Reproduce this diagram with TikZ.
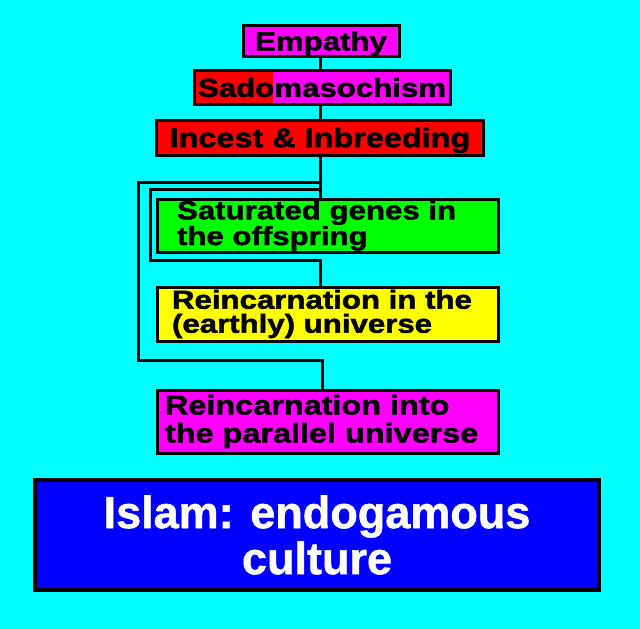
\documentclass[tikz,border=0pt]{standalone}
\usepackage{fontspec}
\newfontfamily\boxfont{Liberation Sans}[FakeStretch=1.2, BoldFeatures={FakeBold=1.8}]
\newfontfamily\islamfont{Liberation Sans}[BoldFeatures={FakeBold=1.2}]
\definecolor{skycyan}{RGB}{0,255,255}
\definecolor{hotmagenta}{RGB}{255,0,255}
\definecolor{hotred}{RGB}{255,0,0}
\definecolor{hotgreen}{RGB}{0,255,0}
\definecolor{hotyellow}{RGB}{255,255,0}
\definecolor{deepblue}{RGB}{0,0,255}
\tikzset{
	box/.style={draw=black, line width=2.25pt, inner sep=0pt, outer sep=0pt},
	link/.style={draw=black, line width=2.25pt},
	topfont/.style={font=\boxfont\bfseries\fontsize{19.5pt}{19.5pt}\selectfont},
	wide/.style={minimum width=255.75pt, text width=#1, align=left}
}

\begin{document}
\begin{tikzpicture}[x=0.75pt, y=-0.75pt]
		\fill[skycyan] (0,0) rectangle (640,629);
		\useasboundingbox (0,0) rectangle (640,629);
		% the three top boxes
		\node [box, topfont, fill=hotmagenta, minimum width=117pt, minimum height=23.25pt, text height=14pt, text depth=0pt] (empathy) at (321, 41) {Empathy};
		\node [box, topfont, fill=hotmagenta, minimum width=192pt, minimum height=25.5pt, text height=14pt, text depth=0pt,
			path picture={\fill[hotred] (path picture bounding box.south west) rectangle ([xshift=59.25pt]path picture bounding box.north west);}] (sado) at (322, 87.5) {Sadomasochism};
		\node [box, font=\boxfont\bfseries\fontsize{20.25pt}{20.25pt}\selectfont, fill=hotred, minimum width=245.25pt, minimum height=26.25pt, text height=14.5pt, text depth=0pt] (incest) at (320, 137.5) {Incest \& Inbreeding};
		% the three wide boxes
		\node [box, wide=225.75pt, inner xsep=15pt, fill=hotgreen, minimum height=39.75pt, font=\boxfont\bfseries\fontsize{19.5pt}{17pt}\selectfont] (genes) at (327.5, 225.5) {Saturated genes in\\the offspring};
		\node [box, wide=233.25pt, inner xsep=11.25pt, fill=hotyellow, minimum height=40.5pt, font=\boxfont\bfseries\fontsize{19.5pt}{18pt}\selectfont] (earthly) at (327.5, 314) {Reincarnation in the\\(earthly) universe};
		\node [box, wide=243.75pt, inner xsep=6pt, fill=hotmagenta, minimum height=47.25pt, font=\boxfont\bfseries\fontsize{20.25pt}{21pt}\selectfont] (parallel) at (327.5, 421.5) {Reincarnation into\\the parallel universe};
		\node [box, line width=3pt, fill=deepblue, text=white, minimum width=423pt, minimum height=82.5pt, align=center, font=\islamfont\bfseries\fontsize{33.75pt}{34.5pt}\selectfont] (islam) at (317, 535) {Islam: endogamous\\culture};
		% links
		\coordinate (outerfork) at (320, 182);
		\coordinate (outerleft) at (138, 360);
		\coordinate (innerfork) at (320, 189);
		\coordinate (innerleft) at (150, 260);
		\draw [link] (empathy.south -| outerfork) -- (sado.north -| outerfork);
		\draw [link] (sado.south -| outerfork) -- (incest.north -| outerfork);
		\draw [link] (incest.south -| outerfork) -- (genes.north -| outerfork);
		\draw [link] (outerfork) -| (outerleft) -| ([xshift=1.5pt]parallel.north -| outerfork);
		\draw [link] (innerfork) -| (innerleft) -| (earthly.north -| innerfork);
	\end{tikzpicture}
\end{document}
